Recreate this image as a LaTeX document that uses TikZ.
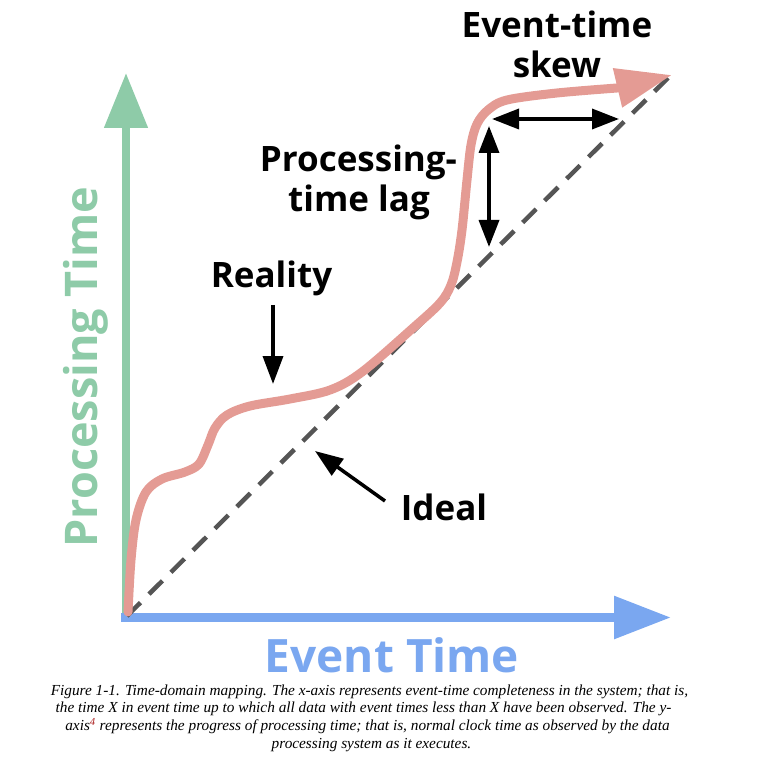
\documentclass[tikz,border=0pt]{standalone}
\usepackage{fontspec}
\setmainfont{Open Sans}
\newfontfamily\capfont{Liberation Serif}
\usetikzlibrary{arrows.meta}
\definecolor{ptgreen}{RGB}{142,203,168}
\definecolor{etblue}{RGB}{122,167,240}
\definecolor{realpink}{RGB}{228,155,148}
\definecolor{idealgrey}{RGB}{85,85,85}
\definecolor{fnred}{RGB}{170,30,30}
\begin{document}
\begin{tikzpicture}[x=1pt,y=-1pt,
  axisY/.style={ptgreen, line width=8pt, -{Triangle[length=55pt,width=42pt]}},
  axisX/.style={etblue, line width=9pt, -{Triangle[length=57pt,width=41pt]}},
  idealline/.style={idealgrey, line width=4.5pt, dash pattern=on 19pt off 12pt},
  reality/.style={realpink, line width=9pt, line cap=round, line join=round, -{Triangle[length=56pt,width=38pt]}},
  pointer/.style={black, line width=3.5pt, -{Triangle[length=28pt,width=20pt]}},
  spanarrow/.style={black, line width=3.5pt, {Triangle[length=27pt,width=20pt]}-{Triangle[length=27pt,width=20pt]}},
  lbl/.style={font=\fontsize{35}{40}\selectfont\bfseries, inner sep=0pt, anchor=base},
  axislbl/.style={font=\fontsize{46}{50}\selectfont\bfseries, inner sep=0pt, anchor=base},
  capline/.style={font=\capfont\itshape\fontsize{15.3}{18}\selectfont, inner sep=0pt, anchor=base}
]
\useasboundingbox (0,0) rectangle (779,759);
% coordinates
\coordinate (O) at (126,617.5);
\coordinate (Ytip) at (126,73);
\coordinate (Ybot) at (126,621);
\coordinate (Xtip) at (671,617.5);
\coordinate (Xleft) at (121,617.5);
\coordinate (Itop) at (673,73);
\coordinate (Ibot) at (127,616);
% axes
\draw[axisY] (Ybot) -- (Ytip);
\draw[axisX] (Xleft) -- (Xtip);
\node[axislbl, font=\fontsize{45}{50}\selectfont\bfseries, text=ptgreen, rotate=90] (ptlabel) at (97,367) {Processing Time};
\node[axislbl, text=etblue] (etlabel) at (392,672) {Event Time};
% ideal
\draw[idealline] (Ibot) -- (Itop);
% reality
\coordinate (Rtip) at (672,75);
\draw[reality] plot[smooth, tension=0.55] coordinates {
  (128,612) (131,560) (136,520) (146,492) (162,479) (185,472) (199,464)
  (208,445) (215,428) (227,415) (250,406) (290,399) (330,390) (362,372)
  (413,328) (440,303) (451,285) (457,262) (462,230) (467,180) (471,145)
  (477,124) (488,110) (507,100) (557,93) (617,88)} -- (Rtip);
% labels
\node[lbl] (skew1) at (557,38) {Event-time};
\node[lbl] (skew2) at (557,78) {skew};
\node[lbl] (lag1) at (358.5,172) {Processing-};
\node[lbl] (lag2) at (359,212) {time lag};
\node[lbl] (real) at (271.5,288) {Reality};
\node[lbl] (ideal) at (444,520) {Ideal};
% black arrows
\coordinate (skewL) at (492,119);
\coordinate (skewR) at (619,119);
\draw[spanarrow] (skewL) -- (skewR);
\coordinate (lagT) at (489,126);
\coordinate (lagB) at (489,247);
\draw[spanarrow] (lagT) -- (lagB);
\coordinate (realFrom) at (273,305);
\coordinate (realTo) at (273,384);
\draw[pointer] (realFrom) -- (realTo);
\coordinate (idealFrom) at (385,501);
\coordinate (idealTo) at (315,451);
\draw[pointer] (idealFrom) -- (idealTo);
% caption
\node[capline] (c1) at (369.5,695) {Figure 1-1. Time-domain mapping. The x-axis represents event-time completeness in the system; that is,};
\node[capline] (c2) at (363.5,712.5) {the time X in event time up to which all data with event times less than X have been observed. The y-};
\node[capline] (c3) at (367.5,730.5) {axis\textsuperscript{\textcolor{fnred}{4}} represents the progress of processing time; that is, normal clock time as observed by the data};
\node[capline] (c4) at (371.5,748) {processing system as it executes.};
\end{tikzpicture}
\end{document}
